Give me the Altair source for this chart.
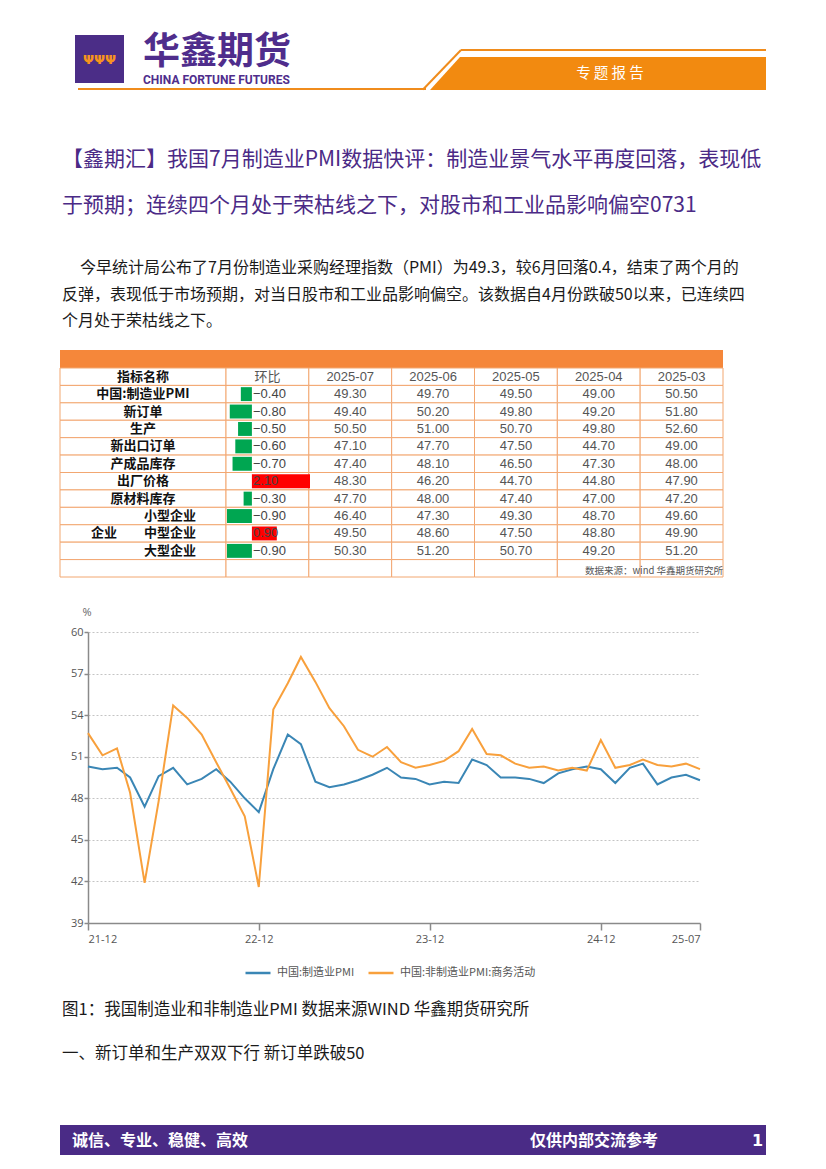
import altair as alt
import pandas as pd

# ---------------- data ----------------
months = [
    "2021-12",
    "2022-01", "2022-02", "2022-03", "2022-04", "2022-05", "2022-06",
    "2022-07", "2022-08", "2022-09", "2022-10", "2022-11", "2022-12",
    "2023-01", "2023-02", "2023-03", "2023-04", "2023-05", "2023-06",
    "2023-07", "2023-08", "2023-09", "2023-10", "2023-11", "2023-12",
    "2024-01", "2024-02", "2024-03", "2024-04", "2024-05", "2024-06",
    "2024-07", "2024-08", "2024-09", "2024-10", "2024-11", "2024-12",
    "2025-01", "2025-02", "2025-03", "2025-04", "2025-05", "2025-06",
    "2025-07",
]
mfg_pmi = [
    50.3,
    50.1, 50.2, 49.5, 47.4, 49.6, 50.2, 49.0, 49.4, 50.1, 49.2, 48.0, 47.0,
    50.1, 52.6, 51.9, 49.2, 48.8, 49.0, 49.3, 49.7, 50.2, 49.5, 49.4, 49.0,
    49.2, 49.1, 50.8, 50.4, 49.5, 49.5, 49.4, 49.1, 49.8, 50.1, 50.3, 50.1,
    49.1, 50.2, 50.5, 49.0, 49.5, 49.7, 49.3,
]
nonmfg_pmi = [
    52.7,
    51.1, 51.6, 48.4, 41.9, 47.8, 54.7, 53.8, 52.6, 50.6, 48.7, 46.7, 41.6,
    54.4, 56.3, 58.2, 56.4, 54.5, 53.2, 51.5, 51.0, 51.7, 50.6, 50.2, 50.4,
    50.7, 51.4, 53.0, 51.2, 51.1, 50.5, 50.2, 50.3, 50.0, 50.2, 50.0, 52.2,
    50.2, 50.4, 50.8, 50.4, 50.3, 50.5, 50.1,
]
series_names = ["中国:制造业PMI", "中国:非制造业PMI:商务活动"]
series_colors = ["#3a86b5", "#f8a03c"]
y_ticks = [39, 42, 45, 48, 51, 54, 57, 60]
x_tick_months = [(2021, 12), (2022, 12), (2023, 12), (2024, 12), (2025, 7)]

table_rows = ["中国:制造业PMI", "新订单", "生产", "新出口订单", "产成品库存",
              "出厂价格", "原材料库存", "小型企业", "中型企业", "大型企业"]
table_cols = ["2025-07", "2025-06", "2025-05", "2025-04", "2025-03"]
col_2025_07 = [49.3, 49.4, 50.5, 47.1, 47.4, 48.3, 47.7, 46.4, 49.5, 50.3]
col_2025_06 = [49.7, 50.2, 51.0, 47.7, 48.1, 46.2, 48.0, 47.3, 48.6, 51.2]
col_2025_05 = [49.5, 49.8, 50.7, 47.5, 46.5, 44.7, 47.4, 49.3, 47.5, 50.7]
col_2025_04 = [49.0, 49.2, 49.8, 44.7, 47.3, 44.8, 47.0, 48.7, 48.8, 49.2]
col_2025_03 = [50.5, 51.8, 52.6, 49.0, 48.0, 47.9, 47.2, 49.6, 49.9, 51.2]
mom = [-0.4, -0.8, -0.5, -0.6, -0.7, 2.1, -0.3, -0.9, 0.9, -0.9]

title_lines = [
    "【鑫期汇】我国7月制造业PMI数据快评：制造业景气水平再度回落，表现低",
    "于预期；连续四个月处于荣枯线之下，对股市和工业品影响偏空0731",
]
para_lines = [
    "今早统计局公布了7月份制造业采购经理指数（PMI）为49.3，较6月回落0.4，结束了两个月的",
    "反弹，表现低于市场预期，对当日股市和工业品影响偏空。该数据自4月份跌破50以来，已连续四",
    "个月处于荣枯线之下。",
]
caption_1 = "图1：我国制造业和非制造业PMI  数据来源WIND 华鑫期货研究所"
caption_2 = "一、新订单和生产双双下行   新订单跌破50"

# ---------------- helpers ----------------
CJK = "Noto Sans CJK SC"
LAT = "Liberation Sans"
PURPLE = "#4b2a86"
ORANGE = "#f08c1c"
GRID = "#f2a771"
OX, OY = 88, 632  # plot-area origin on the page


def px(x):
    return x - OX


def py(y):
    return y - OY


one = pd.DataFrame({"k": [0]})


def txt(s, x, y, size, color="#000000", weight="normal", align="left", font=CJK):
    return alt.Chart(pd.DataFrame({"t": [s]})).mark_text(
        align=align, baseline="middle", fontSize=size, color=color,
        fontWeight=weight, font=font
    ).encode(x=alt.value(px(x)), y=alt.value(py(y)), text="t:N")


def box(x0, y0, x1, y1, color):
    return alt.Chart(one).mark_rect(color=color).encode(
        x=alt.value(px(x0)), x2=alt.value(px(x1)),
        y=alt.value(py(y0)), y2=alt.value(py(y1)))


def seg(x0, y0, x1, y1, color, width):
    return alt.Chart(one).mark_rule(color=color, strokeWidth=width).encode(
        x=alt.value(px(x0)), x2=alt.value(px(x1)),
        y=alt.value(py(y0)), y2=alt.value(py(y1)))


def poly(points, color):
    xs = [p[0] for p in points]
    ys = [p[1] for p in points]
    cx = (min(xs) + max(xs)) / 2
    cy = (min(ys) + max(ys)) / 2
    h = max(max(xs) - min(xs), max(ys) - min(ys)) / 2
    path = "M" + "L".join(f"{(x - cx) / h:.5f},{(y - cy) / h:.5f}" for x, y in points) + "Z"
    return alt.Chart(one).mark_point(
        shape=path, size=(2 * h) ** 2, filled=True, color=color, opacity=1, strokeWidth=0
    ).encode(x=alt.value(px(cx)), y=alt.value(py(cy)))


# ---------------- line chart ----------------
dates = [m + "-01" for m in months]
df_lines = pd.DataFrame({
    "date": dates + dates,
    "value": mfg_pmi + nonmfg_pmi,
    "series": [series_names[0]] * len(dates) + [series_names[1]] * len(dates),
})

x_dom = [alt.DateTime(year=2021, month=12, date=1, utc=True),
         alt.DateTime(year=2025, month=7, date=1, utc=True)]
x_vals = [alt.DateTime(year=y, month=m, date=1, utc=True) for y, m in x_tick_months]

lines = alt.Chart(df_lines).mark_line(strokeWidth=2).encode(
    x=alt.X("date:T",
            scale=alt.Scale(type="utc", domain=x_dom),
            axis=alt.Axis(orient="bottom", values=x_vals, title=None, grid=False,
                          labelExpr="utcFormat(datum.value, '%y-%m')",
                          tickSize=7, tickColor="#8a8a8a", tickWidth=1.5,
                          domainColor="#8a8a8a", domainWidth=1.5,
                          labelFont="Open Sans", labelFontSize=11, labelColor="#555555",
                          labelPadding=3)),
    y=alt.Y("value:Q",
            scale=alt.Scale(domain=[39, 60], nice=False, zero=False),
            axis=alt.Axis(orient="left", values=y_ticks, title=None, grid=True,
                          gridDash=[2, 2], gridColor="#c4c4c4", gridWidth=1,
                          tickSize=4, tickColor="#8a8a8a", tickWidth=1.5,
                          domainColor="#8a8a8a", domainWidth=1.5,
                          labelFont="Open Sans", labelFontSize=11, labelColor="#555555",
                          labelPadding=1)),
    color=alt.Color("series:N",
                    scale=alt.Scale(domain=series_names, range=series_colors),
                    legend=alt.Legend(orient="none", legendX=156, legendY=327,
                                      direction="horizontal", title=None,
                                      symbolType="stroke", symbolSize=625,
                                      symbolStrokeWidth=2.5, labelFont=CJK,
                                      labelFontSize=11, labelColor="#555555",
                                      columnPadding=8, labelOffset=5, padding=0,
                                      labelLimit=400)),
)

# ---------------- table ----------------
row_domain = ["_head"] + table_rows + ["_foot"]
col_domain = ["环比"] + table_cols


def yrow():
    return alt.Y("row:N", scale=alt.Scale(domain=row_domain, range=[py(368), py(577)],
                                          paddingInner=0, paddingOuter=0), axis=None)


def xcol():
    return alt.X("col:N", scale=alt.Scale(domain=col_domain, range=[px(226), px(723)],
                                          paddingInner=0, paddingOuter=0), axis=None)


cells = pd.DataFrame([(r, c) for r in row_domain for c in col_domain], columns=["row", "col"])
cell_layer = alt.Chart(cells).mark_rect(fill="white", stroke=GRID, strokeWidth=1).encode(
    x=xcol(), y=yrow())
name_cells = alt.Chart(pd.DataFrame({"row": row_domain})).mark_rect(
    fill="white", stroke=GRID, strokeWidth=1).encode(
    x=alt.value(px(60)), x2=alt.value(px(226)), y=yrow())

head_df = pd.DataFrame({"col": col_domain, "row": "_head", "label": ["环比"] + table_cols})
head_text = alt.Chart(head_df).mark_text(fontSize=13, color="#555555", font=LAT + ", " + CJK).encode(
    x=xcol(), y=yrow(), text="label:N")
name_head = alt.Chart(pd.DataFrame({"row": ["_head"], "t": ["指标名称"]})).mark_text(
    fontSize=13, fontWeight="bold", color="#111111", font=CJK).encode(
    x=alt.value(px(143)), y=yrow(), text="t:N")

col_values = [col_2025_07, col_2025_06, col_2025_05, col_2025_04, col_2025_03]
val_df = pd.DataFrame([(r, c, v) for c, vals in zip(table_cols, col_values)
                       for r, v in zip(table_rows, vals)], columns=["row", "col", "value"])
val_text = alt.Chart(val_df).mark_text(fontSize=13, color="#555555", font=LAT).encode(
    x=xcol(), y=yrow(), text=alt.Text("value:Q", format=".2f"))

mom_df = pd.DataFrame({"row": table_rows, "mom": mom})
mom_bars = alt.Chart(mom_df).mark_bar(height={"band": 0.8}).encode(
    x=alt.X("mom:Q", scale=alt.Scale(domain=[-0.9, 2.1], range=[px(227), px(310)],
                                     nice=False, zero=True), axis=None),
    x2=alt.datum(0),
    y=yrow(),
    color=alt.condition("datum.mom < 0", alt.value("#00a651"), alt.value("#ff0000")),
)
mom_text = alt.Chart(mom_df).mark_text(align="left", fontSize=13, color="#444444", font=LAT).encode(
    x=alt.value(px(253)), y=yrow(), text=alt.Text("mom:Q", format=".2f"))

names_df = pd.DataFrame({"row": table_rows})
name_main = alt.Chart(names_df).transform_filter(
    alt.FieldOneOfPredicate(field="row", oneOf=table_rows[:7])
).mark_text(fontSize=13, fontWeight="bold", color="#111111", font=CJK).encode(
    x=alt.value(px(143)), y=yrow(), text="row:N")
name_sub = alt.Chart(names_df).transform_filter(
    alt.FieldOneOfPredicate(field="row", oneOf=table_rows[7:])
).mark_text(fontSize=13, fontWeight="bold", color="#111111", font=CJK).encode(
    x=alt.value(px(170)), y=yrow(), text="row:N")
name_group = alt.Chart(pd.DataFrame({"row": ["中型企业"], "t": ["企业"]})).mark_text(
    fontSize=13, fontWeight="bold", color="#111111", font=CJK).encode(
    x=alt.value(px(104)), y=yrow(), text="t:N")

table_layers = [
    box(60, 350, 723, 368, "#f5873a"),
    name_cells, cell_layer, mom_bars, mom_text, head_text, name_head,
    val_text, name_main, name_sub, name_group,
    txt("数据来源：wind 华鑫期货研究所", 723, 571, 9.5, "#555555", align="right"),
]

# ---------------- page decoration ----------------
decor = [
    # header
    box(75, 35, 124, 83, "#4b2d87"),
    txt("ΨΨΨ", 99.5, 60, 13, "#f7941d", "bold", "center", font="DejaVu Sans"),
    txt("华鑫期货", 143, 52.5, 37, "#4f2d8c", "bold"),
    txt("CHINA FORTUNE FUTURES", 143, 79.5, 12, "#4f2d8c", "bold", font="Roboto"),
    seg(78, 89, 426, 89, ORANGE, 2),
    seg(461, 50, 766, 50, ORANGE, 2),
    seg(461, 50, 423, 89.5, ORANGE, 2),
    poly([(460, 57), (766, 57), (766, 90), (430, 90)], "#f28a10"),
    txt("专 题 报 告", 610, 74, 14.5, "#ffffff", align="center"),
    # title & paragraph
    txt(title_lines[0], 62, 160, 21, PURPLE),
    txt(title_lines[1], 62, 206, 21, PURPLE),
    txt(para_lines[0], 80, 268, 16, "#1a1a1a"),
    txt(para_lines[1], 62, 295, 16, "#1a1a1a"),
    txt(para_lines[2], 62, 321, 16, "#1a1a1a"),
    # chart unit
    txt("%", 87, 613, 11, "#666666", align="center", font="Open Sans"),
    # captions
    txt(caption_1, 62, 1010, 16.5, "#1a1a1a"),
    txt(caption_2, 62, 1054, 16.5, "#1a1a1a"),
    # footer
    box(60, 1125, 766, 1155, "#4a2b86"),
    txt("诚信、专业、稳健、高效", 72, 1141, 16, "#ffffff", "bold"),
    txt("仅供内部交流参考", 530, 1141, 16, "#ffffff", "bold"),
    txt("1", 752, 1141, 16, "#ffffff", "bold", font="DejaVu Sans"),
]

chart = alt.layer(lines, *table_layers, *decor).resolve_scale(
    x="independent", y="independent"
).properties(
    width=612, height=291,
    padding={"left": 80, "top": 624, "right": 118, "bottom": 235},
    autosize=alt.AutoSizeParams(type="none"),
    background="white",
).configure(font=CJK).configure_view(stroke=None)

chart.save("out.html", embed_options={"renderer": "svg", "actions": False})
